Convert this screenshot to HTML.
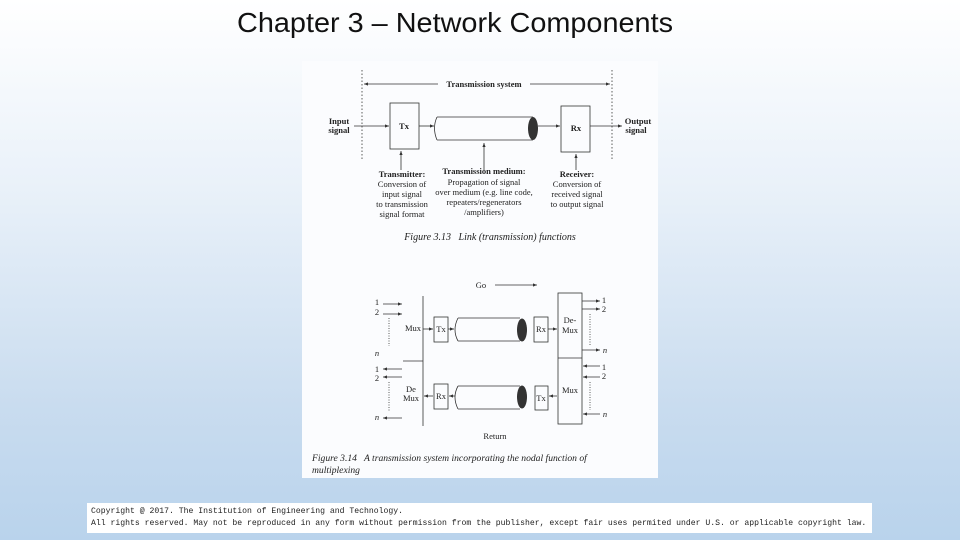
<!DOCTYPE html>
<html><head><meta charset="utf-8"><style>
body{margin:0;width:960px;height:540px;overflow:hidden;background:linear-gradient(#ffffff 0%,#e9f1f9 35%,#c9dcef 75%,#b9d3ec 100%);font-family:"Liberation Sans",sans-serif;position:relative}
.title{position:absolute;left:237px;top:7px;font-size:28px;color:#111;letter-spacing:0;white-space:nowrap;transform:scaleX(1.03);transform-origin:left}
.fig{position:absolute;left:302px;top:61px;width:356px;height:417px;background:#fbfcfe}
.copy{position:absolute;left:87px;top:503px;width:785px;height:30px;background:#fff;font-family:"Liberation Mono",monospace;font-size:8.15px;line-height:12px;color:#222;padding:3px 4px;box-sizing:border-box;white-space:nowrap;overflow:hidden}
</style></head><body>
<div class="title">Chapter 3 – Network Components</div>
<div class="fig"></div>
<svg width="960" height="540" style="position:absolute;left:0;top:0" font-family="Liberation Serif,serif" fill="#222">
<defs><marker id="a" markerWidth="6" markerHeight="6" refX="5" refY="3" orient="auto"><path d="M0,1 L5,3 L0,5z" fill="#333"/></marker></defs>
<g stroke="#333" stroke-width="0.8" fill="none">
<line x1="362" y1="70" x2="362" y2="160" stroke-dasharray="1.5,2"/>
<line x1="612" y1="70" x2="612" y2="160" stroke-dasharray="1.5,2"/>
<line x1="438" y1="84" x2="364" y2="84" marker-end="url(#a)"/>
<line x1="530" y1="84" x2="610" y2="84" marker-end="url(#a)"/>
<rect x="390" y="103" width="29" height="46"/>
<rect x="561" y="106" width="29" height="46"/>
<line x1="354" y1="126" x2="389" y2="126" marker-end="url(#a)"/>
<line x1="419" y1="126" x2="434" y2="126" marker-end="url(#a)"/>
<line x1="538" y1="126" x2="560" y2="126" marker-end="url(#a)"/>
<line x1="590" y1="126" x2="622" y2="126" marker-end="url(#a)"/>
<path d="M437,117 L533,117 M437,140 L533,140 M437,117 Q432,128 437,140"/>
<line x1="401" y1="170" x2="401" y2="151" marker-end="url(#a)"/>
<line x1="484" y1="170" x2="484" y2="143" marker-end="url(#a)"/>
<line x1="576" y1="170" x2="576" y2="154" marker-end="url(#a)"/>
</g>
<ellipse cx="533" cy="128.5" rx="5" ry="11.5" fill="#333"/>
<g font-size="8.5" text-anchor="middle">
<text x="484" y="87" font-weight="bold">Transmission system</text>
<text x="404" y="129" font-weight="bold">Tx</text>
<text x="576" y="131" font-weight="bold">Rx</text>
<text x="339" y="124" font-weight="bold">Input</text><text x="339" y="133" font-weight="bold">signal</text>
<text x="638" y="124" font-weight="bold">Output</text><text x="636" y="133" font-weight="bold">signal</text>
<text x="402" y="177" font-weight="bold">Transmitter:</text>
<text x="402" y="187">Conversion of</text><text x="402" y="197">input signal</text><text x="402" y="207">to transmission</text><text x="402" y="217">signal format</text>
<text x="484" y="174" font-weight="bold">Transmission medium:</text>
<text x="484" y="185">Propagation of signal</text><text x="484" y="195">over medium (e.g. line code,</text><text x="484" y="205">repeaters/regenerators</text><text x="484" y="215">/amplifiers)</text>
<text x="577" y="177" font-weight="bold">Receiver:</text>
<text x="577" y="187">Conversion of</text><text x="577" y="197">received signal</text><text x="577" y="207">to output signal</text>
<text x="490" y="240" font-style="italic" font-size="10" xml:space="preserve">Figure 3.13   Link (transmission) functions</text>
</g>
<g stroke="#333" stroke-width="0.8" fill="none">
<line x1="495" y1="285" x2="537" y2="285" marker-end="url(#a)"/>
<line x1="423" y1="296" x2="423" y2="426"/>
<line x1="403" y1="361" x2="423" y2="361"/>
<line x1="383" y1="304" x2="402" y2="304" marker-end="url(#a)"/>
<line x1="383" y1="314" x2="402" y2="314" marker-end="url(#a)"/>
<line x1="389" y1="318" x2="389" y2="346" stroke-dasharray="1,1.5"/>
<line x1="402" y1="369" x2="383" y2="369" marker-end="url(#a)"/>
<line x1="402" y1="377" x2="383" y2="377" marker-end="url(#a)"/>
<line x1="389" y1="382" x2="389" y2="412" stroke-dasharray="1,1.5"/>
<line x1="402" y1="418" x2="383" y2="418" marker-end="url(#a)"/>
<rect x="434" y="317" width="14" height="25"/>
<rect x="534" y="317" width="14" height="25"/>
<rect x="434" y="384" width="14" height="25"/>
<rect x="535" y="386" width="13" height="24"/>
<rect x="558" y="293" width="24" height="131"/>
<line x1="558" y1="358" x2="582" y2="358"/>
<line x1="423" y1="329" x2="433" y2="329" marker-end="url(#a)"/>
<line x1="448" y1="329" x2="454" y2="329" marker-end="url(#a)"/>
<line x1="548" y1="329" x2="557" y2="329" marker-end="url(#a)"/>
<line x1="433" y1="396" x2="424" y2="396" marker-end="url(#a)"/>
<line x1="455" y1="396" x2="449" y2="396" marker-end="url(#a)"/>
<line x1="557" y1="396" x2="549" y2="396" marker-end="url(#a)"/>
<line x1="582" y1="301" x2="600" y2="301" marker-end="url(#a)"/>
<line x1="582" y1="309" x2="600" y2="309" marker-end="url(#a)"/>
<line x1="590" y1="314" x2="590" y2="346" stroke-dasharray="1,1.5"/>
<line x1="582" y1="350" x2="600" y2="350" marker-end="url(#a)"/>
<line x1="600" y1="366" x2="583" y2="366" marker-end="url(#a)"/>
<line x1="600" y1="377" x2="583" y2="377" marker-end="url(#a)"/>
<line x1="590" y1="382" x2="590" y2="410" stroke-dasharray="1,1.5"/>
<line x1="600" y1="414" x2="583" y2="414" marker-end="url(#a)"/>
<path d="M458,318 L520,318 M458,341 L520,341 M458,318 Q452,330 458,341"/>
<path d="M458,386 L520,386 M458,409 L520,409 M458,386 Q452,397 458,409"/>
</g>
<ellipse cx="522" cy="330" rx="5" ry="11.5" fill="#333"/>
<ellipse cx="522" cy="397" rx="5" ry="11.5" fill="#333"/>
<g font-size="8.5" text-anchor="middle">
<text x="481" y="288">Go</text>
<text x="495" y="439">Return</text>
<text x="413" y="331">Mux</text>
<text x="441" y="332">Tx</text><text x="541" y="332">Rx</text>
<text x="441" y="399">Rx</text><text x="541" y="401">Tx</text>
<text x="570" y="323">De-</text><text x="570" y="333">Mux</text>
<text x="570" y="393">Mux</text>
<text x="411" y="392">De</text><text x="411" y="401">Mux</text>
<text x="377" y="305">1</text><text x="377" y="315">2</text><text x="377" y="356" font-style="italic">n</text>
<text x="377" y="372">1</text><text x="377" y="381">2</text><text x="377" y="420" font-style="italic">n</text>
<text x="604" y="303">1</text><text x="604" y="312">2</text><text x="605" y="353" font-style="italic">n</text>
<text x="604" y="370">1</text><text x="604" y="379">2</text><text x="605" y="417" font-style="italic">n</text>
</g>
<g font-size="9.6" font-style="italic">
<text x="312" y="461" xml:space="preserve">Figure 3.14   A transmission system incorporating the nodal function of</text>
<text x="312" y="473">multiplexing</text>
</g>
</svg>
<div class="copy">Copyright @ 2017. The Institution of Engineering and Technology.<br>All rights reserved. May not be reproduced in any form without permission from the publisher, except fair uses permited under U.S. or applicable copyright law.</div>
</body></html>
